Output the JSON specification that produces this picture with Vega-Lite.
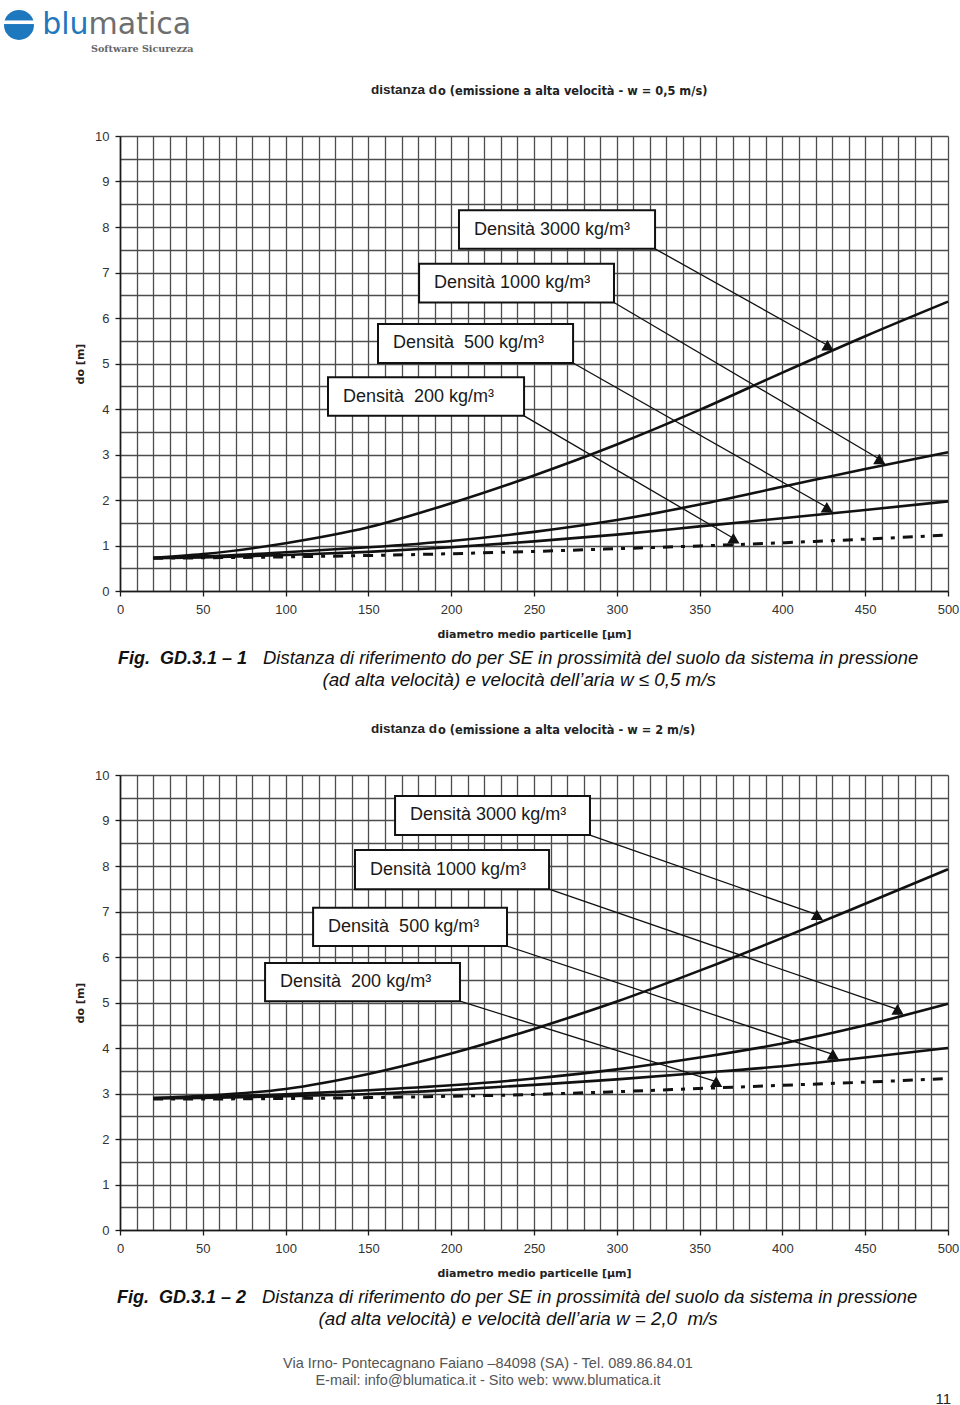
{
  "$schema": "https://vega.github.io/schema/vega-lite/v6.json",
  "background": "white",
  "padding": {"left": 3, "top": 9, "right": 0, "bottom": 0},
  "autosize": {"type": "pad"},
  "bounds": "flush",
  "spacing": 184,
  "config": {"view": {"stroke": null}, "font": "Liberation Sans"},
  "datasets": {
    "curves1": [
      {"d": "3000", "x": 20, "y": 0.73}, {"d": "3000", "x": 50, "y": 0.81}, {"d": "3000", "x": 100, "y": 1.05}, {"d": "3000", "x": 150, "y": 1.4}, {"d": "3000", "x": 200, "y": 1.93}, {"d": "3000", "x": 250, "y": 2.54}, {"d": "3000", "x": 300, "y": 3.22}, {"d": "3000", "x": 350, "y": 3.98}, {"d": "3000", "x": 400, "y": 4.8}, {"d": "3000", "x": 450, "y": 5.6}, {"d": "3000", "x": 500, "y": 6.36},
      {"d": "1000", "x": 20, "y": 0.73}, {"d": "1000", "x": 50, "y": 0.76}, {"d": "1000", "x": 100, "y": 0.85}, {"d": "1000", "x": 150, "y": 0.96}, {"d": "1000", "x": 200, "y": 1.1}, {"d": "1000", "x": 250, "y": 1.3}, {"d": "1000", "x": 300, "y": 1.56}, {"d": "1000", "x": 350, "y": 1.9}, {"d": "1000", "x": 400, "y": 2.29}, {"d": "1000", "x": 450, "y": 2.68}, {"d": "1000", "x": 500, "y": 3.05},
      {"d": "500", "x": 20, "y": 0.72}, {"d": "500", "x": 50, "y": 0.74}, {"d": "500", "x": 100, "y": 0.79}, {"d": "500", "x": 150, "y": 0.86}, {"d": "500", "x": 200, "y": 0.96}, {"d": "500", "x": 250, "y": 1.09}, {"d": "500", "x": 300, "y": 1.24}, {"d": "500", "x": 350, "y": 1.42}, {"d": "500", "x": 400, "y": 1.6}, {"d": "500", "x": 450, "y": 1.78}, {"d": "500", "x": 500, "y": 1.97},
      {"d": "200", "x": 20, "y": 0.72}, {"d": "200", "x": 50, "y": 0.73}, {"d": "200", "x": 100, "y": 0.75}, {"d": "200", "x": 150, "y": 0.78}, {"d": "200", "x": 200, "y": 0.82}, {"d": "200", "x": 250, "y": 0.87}, {"d": "200", "x": 300, "y": 0.93}, {"d": "200", "x": 350, "y": 0.99}, {"d": "200", "x": 400, "y": 1.06}, {"d": "200", "x": 450, "y": 1.14}, {"d": "200", "x": 500, "y": 1.23}
    ],
    "curves2": [
      {"d": "3000", "x": 20, "y": 2.9}, {"d": "3000", "x": 50, "y": 2.95}, {"d": "3000", "x": 100, "y": 3.1}, {"d": "3000", "x": 150, "y": 3.43}, {"d": "3000", "x": 200, "y": 3.88}, {"d": "3000", "x": 250, "y": 4.42}, {"d": "3000", "x": 300, "y": 5.02}, {"d": "3000", "x": 350, "y": 5.7}, {"d": "3000", "x": 400, "y": 6.42}, {"d": "3000", "x": 450, "y": 7.17}, {"d": "3000", "x": 500, "y": 7.93},
      {"d": "1000", "x": 20, "y": 2.9}, {"d": "1000", "x": 50, "y": 2.92}, {"d": "1000", "x": 100, "y": 2.98}, {"d": "1000", "x": 150, "y": 3.07}, {"d": "1000", "x": 200, "y": 3.18}, {"d": "1000", "x": 250, "y": 3.33}, {"d": "1000", "x": 300, "y": 3.53}, {"d": "1000", "x": 350, "y": 3.79}, {"d": "1000", "x": 400, "y": 4.1}, {"d": "1000", "x": 450, "y": 4.5}, {"d": "1000", "x": 500, "y": 4.97},
      {"d": "500", "x": 20, "y": 2.89}, {"d": "500", "x": 50, "y": 2.9}, {"d": "500", "x": 100, "y": 2.94}, {"d": "500", "x": 150, "y": 2.99}, {"d": "500", "x": 200, "y": 3.08}, {"d": "500", "x": 250, "y": 3.19}, {"d": "500", "x": 300, "y": 3.31}, {"d": "500", "x": 350, "y": 3.45}, {"d": "500", "x": 400, "y": 3.6}, {"d": "500", "x": 450, "y": 3.79}, {"d": "500", "x": 500, "y": 4.0},
      {"d": "200", "x": 20, "y": 2.88}, {"d": "200", "x": 50, "y": 2.88}, {"d": "200", "x": 100, "y": 2.89}, {"d": "200", "x": 150, "y": 2.91}, {"d": "200", "x": 200, "y": 2.94}, {"d": "200", "x": 250, "y": 2.98}, {"d": "200", "x": 300, "y": 3.04}, {"d": "200", "x": 350, "y": 3.11}, {"d": "200", "x": 400, "y": 3.18}, {"d": "200", "x": 450, "y": 3.25}, {"d": "200", "x": 500, "y": 3.33}
    ],
    "boxes1": [
      {"label": "Densità 3000 kg/m³", "left": 204.7, "right": 323.1, "top": 8.37, "bottom": 7.52, "ax": 427.2, "ay": 5.4},
      {"label": "Densità 1000 kg/m³", "left": 180.6, "right": 298.3, "top": 7.19, "bottom": 6.34, "ax": 458.5, "ay": 2.9},
      {"label": "Densità\u00a0 500 kg/m³", "left": 155.8, "right": 273.6, "top": 5.87, "bottom": 5.01, "ax": 426.8, "ay": 1.84},
      {"label": "Densità\u00a0 200 kg/m³", "left": 125.6, "right": 244.0, "top": 4.7, "bottom": 3.85, "ax": 370.4, "ay": 1.16}
    ],
    "boxes2": [
      {"label": "Densità 3000 kg/m³", "left": 166.1, "right": 283.8, "top": 9.54, "bottom": 8.68, "ax": 420.8, "ay": 6.93},
      {"label": "Densità 1000 kg/m³", "left": 141.9, "right": 259.1, "top": 8.35, "bottom": 7.49, "ax": 469.5, "ay": 4.85},
      {"label": "Densità\u00a0 500 kg/m³", "left": 116.6, "right": 233.7, "top": 7.08, "bottom": 6.24, "ax": 430.5, "ay": 3.86},
      {"label": "Densità\u00a0 200 kg/m³", "left": 87.6, "right": 205.3, "top": 5.87, "bottom": 5.03, "ax": 360.0, "ay": 3.26}
    ]
  },
  "vconcat": [
    {
      "width": 828,
      "height": 455,
      "layer": [
        {
          "data": {"name": "curves1"},
          "transform": [{"filter": "datum.d !== '200'"}],
          "mark": {"type": "line", "stroke": "#111", "strokeWidth": 2.6, "interpolate": "monotone"},
          "encoding": {
            "x": {"field": "x", "type": "quantitative", "scale": {"domain": [0, 500], "nice": false},
              "axis": {"title": "diametro medio particelle [μm]", "tickCount": 50, "grid": true, "gridColor": "#4d4d4d", "gridWidth": 1.3, "gridOpacity": 1, "domainColor": "#1a1a1a", "domainWidth": 1.6, "tickColor": "#1a1a1a", "tickSize": 5, "tickWidth": 1.3, "tickOpacity": {"condition": {"test": "datum.value % 50 === 0", "value": 1}, "value": 0}, "labelExpr": "datum.value % 50 === 0 ? '' + datum.value : ''", "labelFont": "Liberation Sans", "labelFontSize": 13, "labelColor": "#333", "labelPadding": 7, "labelOverlap": false, "labelFlush": false, "labelBound": false, "titleFont": "DejaVu Sans", "titleFontSize": 11, "titleFontWeight": "bold", "titleColor": "#222", "titlePadding": 12}},
            "y": {"field": "y", "type": "quantitative", "scale": {"domain": [0, 10], "nice": false},
              "axis": {"title": "do [m]", "tickCount": 20, "grid": true, "gridColor": "#4d4d4d", "gridWidth": 1.3, "gridOpacity": 1, "domainColor": "#1a1a1a", "domainWidth": 1.6, "tickColor": "#1a1a1a", "tickSize": 5, "tickWidth": 1.3, "tickOpacity": {"condition": {"test": "datum.value % 1 === 0", "value": 1}, "value": 0}, "labelExpr": "datum.value % 1 === 0 ? '' + datum.value : ''", "labelFont": "Liberation Sans", "labelFontSize": 13, "labelColor": "#333", "labelPadding": 6, "labelOverlap": false, "labelFlush": false, "labelBound": false, "titleFont": "DejaVu Sans", "titleFontSize": 11, "titleFontWeight": "bold", "titleColor": "#222", "titlePadding": 9}},
            "detail": {"field": "d"}
          }
        },
        {
          "data": {"name": "curves1"},
          "transform": [{"filter": "datum.d === '200'"}],
          "mark": {"type": "line", "stroke": "#111", "strokeWidth": 3, "strokeDash": [10, 8, 4, 8], "interpolate": "monotone"},
          "encoding": {"x": {"field": "x", "type": "quantitative"}, "y": {"field": "y", "type": "quantitative"}}
        },
        {
          "data": {"name": "boxes1"},
          "mark": {"type": "rule", "stroke": "#111", "strokeWidth": 1.3},
          "encoding": {"x": {"field": "right", "type": "quantitative"}, "y": {"field": "bottom", "type": "quantitative"}, "x2": {"field": "ax"}, "y2": {"field": "ay"}}
        },
        {
          "data": {"name": "boxes1"},
          "mark": {"type": "point", "shape": "triangle-up", "filled": true, "fill": "#111", "size": 150, "opacity": 1, "strokeWidth": 0},
          "encoding": {"x": {"field": "ax", "type": "quantitative"}, "y": {"field": "ay", "type": "quantitative"}}
        },
        {
          "data": {"name": "boxes1"},
          "mark": {"type": "rect", "fill": "white", "stroke": "#111", "strokeWidth": 2},
          "encoding": {"x": {"field": "left", "type": "quantitative"}, "x2": {"field": "right"}, "y": {"field": "top", "type": "quantitative"}, "y2": {"field": "bottom"}}
        },
        {
          "data": {"name": "boxes1"},
          "mark": {"type": "text", "align": "left", "baseline": "middle", "dx": 15, "dy": 19.5, "fontSize": 18, "font": "Liberation Sans", "fill": "#1a1a1a"},
          "encoding": {"x": {"field": "left", "type": "quantitative"}, "y": {"field": "top", "type": "quantitative"}, "text": {"field": "label"}}
        },
        {
          "data": {"values": [{}]},
          "mark": {"type": "text", "align": "right", "baseline": "alphabetic", "font": "Liberation Sans", "fontWeight": "bold", "fontSize": 13.5, "fill": "#222"},
          "encoding": {"x": {"datum": 191.5, "type": "quantitative"}, "y": {"datum": 10.92, "type": "quantitative"}, "text": {"value": "distanza d"}}
        },
        {
          "data": {"values": [{}]},
          "mark": {"type": "text", "align": "left", "baseline": "alphabetic", "font": "DejaVu Sans", "fontWeight": "bold", "fontSize": 11.4, "fill": "#222"},
          "encoding": {"x": {"datum": 192.0, "type": "quantitative"}, "y": {"datum": 10.9, "type": "quantitative"}, "text": {"value": "o (emissione a alta velocità - w = 0,5 m/s)"}}
        },
        {
          "data": {"values": [{}]},
          "mark": {"type": "text", "align": "left", "baseline": "alphabetic", "font": "Liberation Sans", "fontWeight": "bold", "fontStyle": "italic", "fontSize": 18, "fill": "#111"},
          "encoding": {"x": {"datum": -1.2, "type": "quantitative"}, "y": {"datum": -1.6, "type": "quantitative"}, "text": {"value": "Fig.\u00a0 GD.3.1 – 1"}}
        },
        {
          "data": {"values": [{}]},
          "mark": {"type": "text", "align": "left", "baseline": "alphabetic", "font": "Liberation Sans", "fontStyle": "italic", "fontSize": 18.4, "fill": "#111"},
          "encoding": {"x": {"datum": 86.4, "type": "quantitative"}, "y": {"datum": -1.6, "type": "quantitative"}, "text": {"value": "Distanza di riferimento do per SE in prossimità del suolo da sistema in pressione"}}
        },
        {
          "data": {"values": [{}]},
          "mark": {"type": "text", "align": "center", "baseline": "alphabetic", "font": "Liberation Sans", "fontStyle": "italic", "fontSize": 18.8, "fill": "#111"},
          "encoding": {"x": {"datum": 241.0, "type": "quantitative"}, "y": {"datum": -2.08, "type": "quantitative"}, "text": {"value": "(ad alta velocità) e velocità dell’aria w ≤ 0,5 m/s"}}
        },
        {
          "data": {"values": [{}]},
          "mark": {"type": "point", "shape": "circle", "filled": true, "fill": "#1e78be", "size": 900, "opacity": 1, "strokeWidth": 0},
          "encoding": {"x": {"datum": -61.0, "type": "quantitative"}, "y": {"datum": 12.44, "type": "quantitative"}}
        },
        {
          "data": {"values": [{}]},
          "mark": {"type": "point", "shape": "M-1,-0.12 L1,-0.12 L1,0.12 L-1,0.12 Z", "filled": true, "fill": "white", "size": 900, "opacity": 1, "strokeWidth": 0},
          "encoding": {"x": {"datum": -61.0, "type": "quantitative"}, "y": {"datum": 12.5, "type": "quantitative"}}
        },
        {
          "data": {"values": [{}]},
          "mark": {"type": "text", "align": "right", "baseline": "alphabetic", "font": "DejaVu Sans", "fontSize": 30, "fill": "#1e78be"},
          "encoding": {"x": {"datum": -19.0, "type": "quantitative"}, "y": {"datum": 12.24, "type": "quantitative"}, "text": {"value": "blu"}}
        },
        {
          "data": {"values": [{}]},
          "mark": {"type": "text", "align": "left", "baseline": "alphabetic", "font": "DejaVu Sans", "fontSize": 30, "fill": "#6d6e70"},
          "encoding": {"x": {"datum": -19.0, "type": "quantitative"}, "y": {"datum": 12.24, "type": "quantitative"}, "text": {"value": "matica"}}
        },
        {
          "data": {"values": [{}]},
          "mark": {"type": "text", "align": "left", "baseline": "alphabetic", "font": "DejaVu Serif", "fontWeight": "bold", "fontSize": 9.6, "fill": "#666"},
          "encoding": {"x": {"datum": -17.5, "type": "quantitative"}, "y": {"datum": 11.84, "type": "quantitative"}, "text": {"value": "Software Sicurezza"}}
        }
      ]
    },
    {
      "width": 828,
      "height": 455,
      "layer": [
        {
          "data": {"name": "curves2"},
          "transform": [{"filter": "datum.d !== '200'"}],
          "mark": {"type": "line", "stroke": "#111", "strokeWidth": 2.6, "interpolate": "monotone"},
          "encoding": {
            "x": {"field": "x", "type": "quantitative", "scale": {"domain": [0, 500], "nice": false},
              "axis": {"title": "diametro medio particelle [μm]", "tickCount": 50, "grid": true, "gridColor": "#4d4d4d", "gridWidth": 1.3, "gridOpacity": 1, "domainColor": "#1a1a1a", "domainWidth": 1.6, "tickColor": "#1a1a1a", "tickSize": 5, "tickWidth": 1.3, "tickOpacity": {"condition": {"test": "datum.value % 50 === 0", "value": 1}, "value": 0}, "labelExpr": "datum.value % 50 === 0 ? '' + datum.value : ''", "labelFont": "Liberation Sans", "labelFontSize": 13, "labelColor": "#333", "labelPadding": 7, "labelOverlap": false, "labelFlush": false, "labelBound": false, "titleFont": "DejaVu Sans", "titleFontSize": 11, "titleFontWeight": "bold", "titleColor": "#222", "titlePadding": 12}},
            "y": {"field": "y", "type": "quantitative", "scale": {"domain": [0, 10], "nice": false},
              "axis": {"title": "do [m]", "tickCount": 20, "grid": true, "gridColor": "#4d4d4d", "gridWidth": 1.3, "gridOpacity": 1, "domainColor": "#1a1a1a", "domainWidth": 1.6, "tickColor": "#1a1a1a", "tickSize": 5, "tickWidth": 1.3, "tickOpacity": {"condition": {"test": "datum.value % 1 === 0", "value": 1}, "value": 0}, "labelExpr": "datum.value % 1 === 0 ? '' + datum.value : ''", "labelFont": "Liberation Sans", "labelFontSize": 13, "labelColor": "#333", "labelPadding": 6, "labelOverlap": false, "labelFlush": false, "labelBound": false, "titleFont": "DejaVu Sans", "titleFontSize": 11, "titleFontWeight": "bold", "titleColor": "#222", "titlePadding": 9}},
            "detail": {"field": "d"}
          }
        },
        {
          "data": {"name": "curves2"},
          "transform": [{"filter": "datum.d === '200'"}],
          "mark": {"type": "line", "stroke": "#111", "strokeWidth": 3, "strokeDash": [10, 8, 4, 8], "interpolate": "monotone"},
          "encoding": {"x": {"field": "x", "type": "quantitative"}, "y": {"field": "y", "type": "quantitative"}}
        },
        {
          "data": {"name": "boxes2"},
          "mark": {"type": "rule", "stroke": "#111", "strokeWidth": 1.3},
          "encoding": {"x": {"field": "right", "type": "quantitative"}, "y": {"field": "bottom", "type": "quantitative"}, "x2": {"field": "ax"}, "y2": {"field": "ay"}}
        },
        {
          "data": {"name": "boxes2"},
          "mark": {"type": "point", "shape": "triangle-up", "filled": true, "fill": "#111", "size": 150, "opacity": 1, "strokeWidth": 0},
          "encoding": {"x": {"field": "ax", "type": "quantitative"}, "y": {"field": "ay", "type": "quantitative"}}
        },
        {
          "data": {"name": "boxes2"},
          "mark": {"type": "rect", "fill": "white", "stroke": "#111", "strokeWidth": 2},
          "encoding": {"x": {"field": "left", "type": "quantitative"}, "x2": {"field": "right"}, "y": {"field": "top", "type": "quantitative"}, "y2": {"field": "bottom"}}
        },
        {
          "data": {"name": "boxes2"},
          "mark": {"type": "text", "align": "left", "baseline": "middle", "dx": 15, "dy": 19.5, "fontSize": 18, "font": "Liberation Sans", "fill": "#1a1a1a"},
          "encoding": {"x": {"field": "left", "type": "quantitative"}, "y": {"field": "top", "type": "quantitative"}, "text": {"field": "label"}}
        },
        {
          "data": {"values": [{}]},
          "mark": {"type": "text", "align": "right", "baseline": "alphabetic", "font": "Liberation Sans", "fontWeight": "bold", "fontSize": 13.5, "fill": "#222"},
          "encoding": {"x": {"datum": 191.5, "type": "quantitative"}, "y": {"datum": 10.92, "type": "quantitative"}, "text": {"value": "distanza d"}}
        },
        {
          "data": {"values": [{}]},
          "mark": {"type": "text", "align": "left", "baseline": "alphabetic", "font": "DejaVu Sans", "fontWeight": "bold", "fontSize": 11.4, "fill": "#222"},
          "encoding": {"x": {"datum": 192.0, "type": "quantitative"}, "y": {"datum": 10.9, "type": "quantitative"}, "text": {"value": "o (emissione a alta velocità - w = 2 m/s)"}}
        },
        {
          "data": {"values": [{}]},
          "mark": {"type": "text", "align": "left", "baseline": "alphabetic", "font": "Liberation Sans", "fontWeight": "bold", "fontStyle": "italic", "fontSize": 18, "fill": "#111"},
          "encoding": {"x": {"datum": -1.8, "type": "quantitative"}, "y": {"datum": -1.6, "type": "quantitative"}, "text": {"value": "Fig.\u00a0 GD.3.1 – 2"}}
        },
        {
          "data": {"values": [{}]},
          "mark": {"type": "text", "align": "left", "baseline": "alphabetic", "font": "Liberation Sans", "fontStyle": "italic", "fontSize": 18.4, "fill": "#111"},
          "encoding": {"x": {"datum": 85.8, "type": "quantitative"}, "y": {"datum": -1.6, "type": "quantitative"}, "text": {"value": "Distanza di riferimento do per SE in prossimità del suolo da sistema in pressione"}}
        },
        {
          "data": {"values": [{}]},
          "mark": {"type": "text", "align": "center", "baseline": "alphabetic", "font": "Liberation Sans", "fontStyle": "italic", "fontSize": 18.8, "fill": "#111"},
          "encoding": {"x": {"datum": 240.4, "type": "quantitative"}, "y": {"datum": -2.08, "type": "quantitative"}, "text": {"value": "(ad alta velocità) e velocità dell’aria w = 2,0\u00a0 m/s"}}
        },
        {
          "data": {"values": [{}]},
          "mark": {"type": "text", "align": "center", "baseline": "alphabetic", "font": "Liberation Sans", "fontSize": 14.5, "fill": "#555"},
          "encoding": {"x": {"datum": 222.2, "type": "quantitative"}, "y": {"datum": -3.03, "type": "quantitative"}, "text": {"value": "Via Irno- Pontecagnano Faiano –84098 (SA) - Tel. 089.86.84.01"}}
        },
        {
          "data": {"values": [{}]},
          "mark": {"type": "text", "align": "center", "baseline": "alphabetic", "font": "Liberation Sans", "fontSize": 14.5, "fill": "#555"},
          "encoding": {"x": {"datum": 222.2, "type": "quantitative"}, "y": {"datum": -3.41, "type": "quantitative"}, "text": {"value": "E-mail: info@blumatica.it - Sito web: www.blumatica.it"}}
        },
        {
          "data": {"values": [{}]},
          "mark": {"type": "text", "align": "right", "baseline": "alphabetic", "font": "Liberation Sans", "fontSize": 15, "fill": "#222"},
          "encoding": {"x": {"datum": 501.8, "type": "quantitative"}, "y": {"datum": -3.82, "type": "quantitative"}, "text": {"value": "11"}}
        }
      ]
    }
  ]
}
